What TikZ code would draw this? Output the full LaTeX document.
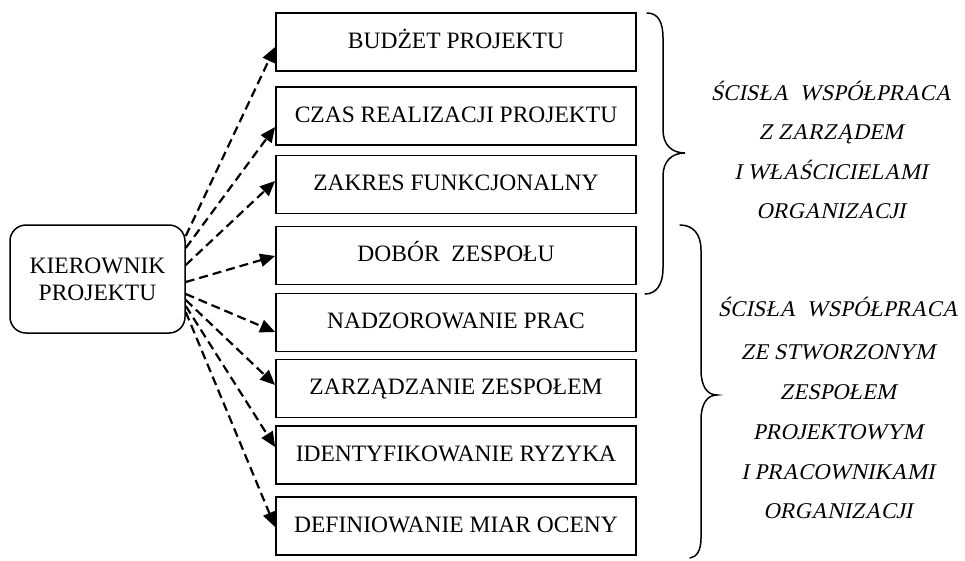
\documentclass[tikz,border=0pt]{standalone}
\usepackage{fontspec}
\setmainfont{Liberation Serif}
\newfontfamily\notefont{Liberation Serif}[FakeSlant=0.21]
\usetikzlibrary{arrows.meta}

\begin{document}
\begin{tikzpicture}[x=1pt,y=-1pt,
  taskbox/.style={draw, line width=1.8pt, minimum width=360pt, minimum height=58pt,
    inner sep=0pt, text height=15.5pt, text depth=3pt,
    font=\fontsize{23.5}{28}\selectfont},
  leadbox/.style={draw, line width=1.5pt, rounded corners=16pt, minimum width=175pt,
    minimum height=108pt, inner sep=0pt, align=center,
    font=\fontsize{23.5}{27}\selectfont},
  conn/.style={line width=2.2pt, dash pattern=on 9pt off 5pt,
    -{Triangle[length=15pt,width=13pt]}},
  bracepath/.style={line width=1.5pt, line cap=round},
  note/.style={anchor=base, inner sep=0pt, font=\notefont\fontsize{22.5}{27}\selectfont}]

\useasboundingbox (0,0) rectangle (965,560);

% project manager
\node[leadbox] (k) at (97.5,279) {KIEROWNIK\\PROJEKTU};

% task boxes
\node[taskbox] (b1) at (456,42)    {BUDŻET PROJEKTU};
\node[taskbox] (b2) at (456,116)   {CZAS REALIZACJI PROJEKTU};
\node[taskbox] (b3) at (456,184.5) {ZAKRES FUNKCJONALNY};
\node[taskbox] (b4) at (456,255.5) {DOBÓR~~ZESPOŁU};
\node[taskbox] (b5) at (456,322.5) {NADZOROWANIE PRAC};
\node[taskbox] (b6) at (456,388.5) {ZARZĄDZANIE ZESPOŁEM};
\node[taskbox] (b7) at (456,455)   {IDENTYFIKOWANIE RYZYKA};
\node[taskbox] (b8) at (456,526)   {DEFINIOWANIE MIAR OCENY};

% dashed connectors from the manager to every task
\foreach \i/\s/\t in {1/43/-5, 2/31/-11, 3/14/3.5, 4/-3/-0.5,
                      5/-15/-9.5, 6/-21/3.5, 7/-27/8, 8/-33/-1}
  \draw[conn] ([yshift=\s pt]k.east) -- ([yshift=\t pt]b\i.west);

% braces
\draw[bracepath] (647,13) .. controls (658,13) and (663,22) .. (663,38)
  -- (663,130) .. controls (663,145) and (672,153) .. (685,153)
  .. controls (672,153) and (663,161) .. (663,176)
  -- (663,268) .. controls (663,285) and (656,294) .. (645,294);
\draw[bracepath] (680,225) .. controls (693,225) and (701,234) .. (701,250)
  -- (701,370) .. controls (701,386) and (707,395) .. (717,395)
  .. controls (707,395) and (701,404) .. (701,420)
  -- (701,538) .. controls (701,550) and (697,557) .. (690,558);

% cooperation notes
\node[note] (n1a) at (831,100.5) {ŚCISŁA~~WSPÓŁPRACA};
\node[note] (n1b) at (831,139.5) {Z ZARZĄDEM};
\node[note] (n1c) at (831,179.5) {I WŁAŚCICIELAMI};
\node[note] (n1d) at (831,218.5) {ORGANIZACJI};

\node[note] (n2a) at (838,316.5) {ŚCISŁA~~WSPÓŁPRACA};
\node[note] (n2b) at (838,359.5) {ZE STWORZONYM};
\node[note] (n2c) at (838,399.5) {ZESPOŁEM};
\node[note] (n2d) at (838,439.5) {PROJEKTOWYM};
\node[note] (n2e) at (838,479.5) {I PRACOWNIKAMI};
\node[note] (n2f) at (838,518.5) {ORGANIZACJI};
\end{tikzpicture}
\end{document}
